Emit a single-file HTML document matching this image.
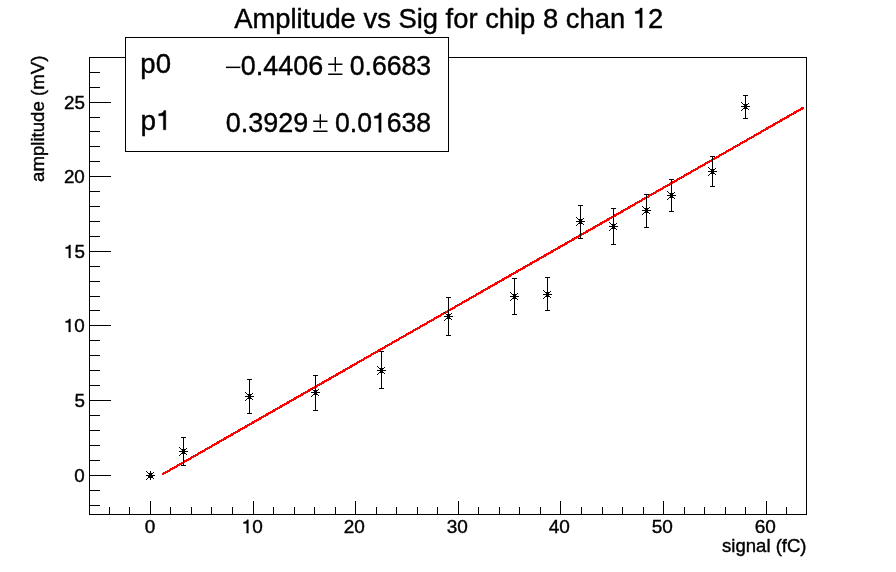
<!DOCTYPE html>
<html><head><meta charset="utf-8"><style>
html,body{margin:0;padding:0;background:#fff;overflow:hidden;}
svg{display:block;will-change:transform;}
text{font-family:"Liberation Sans",sans-serif;fill:#000;stroke:#000;stroke-width:0.4px;}
.g1{fill:#000;stroke:#000;}
</style></head><body>
<svg width="896" height="572" viewBox="0 0 896 572">
<rect x="0" y="0" width="896" height="572" fill="#fff"/>
<g shape-rendering="crispEdges" fill="#000">
<rect x="89" y="57" width="718" height="1"/>
<rect x="89" y="514" width="718" height="1"/>
<rect x="89" y="57" width="1" height="458"/>
<rect x="806" y="57" width="1" height="458"/>
<rect x="109" y="507" width="1" height="7"/>
<rect x="129" y="507" width="1" height="7"/>
<rect x="150" y="501" width="1" height="13"/>
<rect x="170" y="507" width="1" height="7"/>
<rect x="191" y="507" width="1" height="7"/>
<rect x="211" y="507" width="1" height="7"/>
<rect x="232" y="507" width="1" height="7"/>
<rect x="253" y="501" width="1" height="13"/>
<rect x="273" y="507" width="1" height="7"/>
<rect x="294" y="507" width="1" height="7"/>
<rect x="314" y="507" width="1" height="7"/>
<rect x="335" y="507" width="1" height="7"/>
<rect x="355" y="501" width="1" height="13"/>
<rect x="376" y="507" width="1" height="7"/>
<rect x="396" y="507" width="1" height="7"/>
<rect x="417" y="507" width="1" height="7"/>
<rect x="437" y="507" width="1" height="7"/>
<rect x="458" y="501" width="1" height="13"/>
<rect x="478" y="507" width="1" height="7"/>
<rect x="499" y="507" width="1" height="7"/>
<rect x="519" y="507" width="1" height="7"/>
<rect x="540" y="507" width="1" height="7"/>
<rect x="560" y="501" width="1" height="13"/>
<rect x="581" y="507" width="1" height="7"/>
<rect x="602" y="507" width="1" height="7"/>
<rect x="622" y="507" width="1" height="7"/>
<rect x="643" y="507" width="1" height="7"/>
<rect x="663" y="501" width="1" height="13"/>
<rect x="684" y="507" width="1" height="7"/>
<rect x="704" y="507" width="1" height="7"/>
<rect x="725" y="507" width="1" height="7"/>
<rect x="745" y="507" width="1" height="7"/>
<rect x="766" y="501" width="1" height="13"/>
<rect x="786" y="507" width="1" height="7"/>
<rect x="89" y="505" width="11" height="1"/>
<rect x="89" y="490" width="11" height="1"/>
<rect x="89" y="475" width="22" height="1"/>
<rect x="89" y="460" width="11" height="1"/>
<rect x="89" y="445" width="11" height="1"/>
<rect x="89" y="430" width="11" height="1"/>
<rect x="89" y="415" width="11" height="1"/>
<rect x="89" y="400" width="22" height="1"/>
<rect x="89" y="385" width="11" height="1"/>
<rect x="89" y="370" width="11" height="1"/>
<rect x="89" y="355" width="11" height="1"/>
<rect x="89" y="340" width="11" height="1"/>
<rect x="89" y="325" width="22" height="1"/>
<rect x="89" y="310" width="11" height="1"/>
<rect x="89" y="296" width="11" height="1"/>
<rect x="89" y="281" width="11" height="1"/>
<rect x="89" y="266" width="11" height="1"/>
<rect x="89" y="251" width="22" height="1"/>
<rect x="89" y="236" width="11" height="1"/>
<rect x="89" y="221" width="11" height="1"/>
<rect x="89" y="206" width="11" height="1"/>
<rect x="89" y="191" width="11" height="1"/>
<rect x="89" y="176" width="22" height="1"/>
<rect x="89" y="161" width="11" height="1"/>
<rect x="89" y="146" width="11" height="1"/>
<rect x="89" y="131" width="11" height="1"/>
<rect x="89" y="117" width="11" height="1"/>
<rect x="89" y="102" width="22" height="1"/>
<rect x="89" y="87" width="11" height="1"/>
<rect x="89" y="72" width="11" height="1"/>
</g>
<line x1="163" y1="474.0" x2="803.1" y2="107.9" stroke="#f00" stroke-width="2.3" stroke-linecap="round" shape-rendering="crispEdges"/>
<g shape-rendering="crispEdges" fill="#000">
<rect x="148" y="476" width="5" height="1"/>
<rect x="146" y="475" width="9" height="1"/>
<rect x="150" y="471" width="1" height="9"/>
<rect x="148" y="473" width="5" height="1"/>
<rect x="148" y="477" width="5" height="1"/>
<rect x="149" y="474" width="3" height="3"/>
<rect x="146" y="471" width="1" height="1"/>
<rect x="147" y="472" width="1" height="1"/>
<rect x="153" y="472" width="1" height="1"/>
<rect x="147" y="478" width="1" height="1"/>
<rect x="146" y="479" width="1" height="1"/>
<rect x="153" y="478" width="1" height="1"/>
<rect x="183" y="437" width="1" height="29"/>
<rect x="181" y="437" width="5" height="1"/>
<rect x="181" y="465" width="5" height="1"/>
<rect x="179" y="451" width="9" height="1"/>
<rect x="183" y="447" width="1" height="9"/>
<rect x="181" y="449" width="5" height="1"/>
<rect x="181" y="453" width="5" height="1"/>
<rect x="182" y="450" width="3" height="3"/>
<rect x="179" y="447" width="1" height="1"/>
<rect x="180" y="448" width="1" height="1"/>
<rect x="186" y="448" width="1" height="1"/>
<rect x="180" y="454" width="1" height="1"/>
<rect x="179" y="455" width="1" height="1"/>
<rect x="186" y="454" width="1" height="1"/>
<rect x="249" y="379" width="1" height="35"/>
<rect x="247" y="379" width="5" height="1"/>
<rect x="247" y="413" width="5" height="1"/>
<rect x="245" y="396" width="9" height="1"/>
<rect x="249" y="392" width="1" height="9"/>
<rect x="247" y="394" width="5" height="1"/>
<rect x="247" y="398" width="5" height="1"/>
<rect x="248" y="395" width="3" height="3"/>
<rect x="245" y="392" width="1" height="1"/>
<rect x="246" y="393" width="1" height="1"/>
<rect x="252" y="393" width="1" height="1"/>
<rect x="246" y="399" width="1" height="1"/>
<rect x="245" y="400" width="1" height="1"/>
<rect x="252" y="399" width="1" height="1"/>
<rect x="315" y="375" width="1" height="36"/>
<rect x="313" y="375" width="5" height="1"/>
<rect x="313" y="410" width="5" height="1"/>
<rect x="311" y="392" width="9" height="1"/>
<rect x="315" y="388" width="1" height="9"/>
<rect x="313" y="390" width="5" height="1"/>
<rect x="313" y="394" width="5" height="1"/>
<rect x="314" y="391" width="3" height="3"/>
<rect x="311" y="388" width="1" height="1"/>
<rect x="312" y="389" width="1" height="1"/>
<rect x="318" y="389" width="1" height="1"/>
<rect x="312" y="395" width="1" height="1"/>
<rect x="311" y="396" width="1" height="1"/>
<rect x="318" y="395" width="1" height="1"/>
<rect x="381" y="351" width="1" height="38"/>
<rect x="379" y="351" width="5" height="1"/>
<rect x="379" y="388" width="5" height="1"/>
<rect x="377" y="370" width="9" height="1"/>
<rect x="381" y="366" width="1" height="9"/>
<rect x="379" y="368" width="5" height="1"/>
<rect x="379" y="372" width="5" height="1"/>
<rect x="380" y="369" width="3" height="3"/>
<rect x="377" y="366" width="1" height="1"/>
<rect x="378" y="367" width="1" height="1"/>
<rect x="384" y="367" width="1" height="1"/>
<rect x="378" y="373" width="1" height="1"/>
<rect x="377" y="374" width="1" height="1"/>
<rect x="384" y="373" width="1" height="1"/>
<rect x="448" y="297" width="1" height="39"/>
<rect x="446" y="297" width="5" height="1"/>
<rect x="446" y="335" width="5" height="1"/>
<rect x="444" y="316" width="9" height="1"/>
<rect x="448" y="312" width="1" height="9"/>
<rect x="446" y="314" width="5" height="1"/>
<rect x="446" y="318" width="5" height="1"/>
<rect x="447" y="315" width="3" height="3"/>
<rect x="444" y="312" width="1" height="1"/>
<rect x="445" y="313" width="1" height="1"/>
<rect x="451" y="313" width="1" height="1"/>
<rect x="445" y="319" width="1" height="1"/>
<rect x="444" y="320" width="1" height="1"/>
<rect x="451" y="319" width="1" height="1"/>
<rect x="514" y="278" width="1" height="37"/>
<rect x="512" y="278" width="5" height="1"/>
<rect x="512" y="314" width="5" height="1"/>
<rect x="510" y="296" width="9" height="1"/>
<rect x="514" y="292" width="1" height="9"/>
<rect x="512" y="294" width="5" height="1"/>
<rect x="512" y="298" width="5" height="1"/>
<rect x="513" y="295" width="3" height="3"/>
<rect x="510" y="292" width="1" height="1"/>
<rect x="511" y="293" width="1" height="1"/>
<rect x="517" y="293" width="1" height="1"/>
<rect x="511" y="299" width="1" height="1"/>
<rect x="510" y="300" width="1" height="1"/>
<rect x="517" y="299" width="1" height="1"/>
<rect x="547" y="277" width="1" height="34"/>
<rect x="545" y="277" width="5" height="1"/>
<rect x="545" y="310" width="5" height="1"/>
<rect x="543" y="294" width="9" height="1"/>
<rect x="547" y="290" width="1" height="9"/>
<rect x="545" y="292" width="5" height="1"/>
<rect x="545" y="296" width="5" height="1"/>
<rect x="546" y="293" width="3" height="3"/>
<rect x="543" y="290" width="1" height="1"/>
<rect x="544" y="291" width="1" height="1"/>
<rect x="550" y="291" width="1" height="1"/>
<rect x="544" y="297" width="1" height="1"/>
<rect x="543" y="298" width="1" height="1"/>
<rect x="550" y="297" width="1" height="1"/>
<rect x="580" y="205" width="1" height="34"/>
<rect x="578" y="205" width="5" height="1"/>
<rect x="578" y="238" width="5" height="1"/>
<rect x="576" y="221" width="9" height="1"/>
<rect x="580" y="217" width="1" height="9"/>
<rect x="578" y="219" width="5" height="1"/>
<rect x="578" y="223" width="5" height="1"/>
<rect x="579" y="220" width="3" height="3"/>
<rect x="576" y="217" width="1" height="1"/>
<rect x="577" y="218" width="1" height="1"/>
<rect x="583" y="218" width="1" height="1"/>
<rect x="577" y="224" width="1" height="1"/>
<rect x="576" y="225" width="1" height="1"/>
<rect x="583" y="224" width="1" height="1"/>
<rect x="613" y="208" width="1" height="37"/>
<rect x="611" y="208" width="5" height="1"/>
<rect x="611" y="244" width="5" height="1"/>
<rect x="609" y="226" width="9" height="1"/>
<rect x="613" y="222" width="1" height="9"/>
<rect x="611" y="224" width="5" height="1"/>
<rect x="611" y="228" width="5" height="1"/>
<rect x="612" y="225" width="3" height="3"/>
<rect x="609" y="222" width="1" height="1"/>
<rect x="610" y="223" width="1" height="1"/>
<rect x="616" y="223" width="1" height="1"/>
<rect x="610" y="229" width="1" height="1"/>
<rect x="609" y="230" width="1" height="1"/>
<rect x="616" y="229" width="1" height="1"/>
<rect x="646" y="194" width="1" height="34"/>
<rect x="644" y="194" width="5" height="1"/>
<rect x="644" y="227" width="5" height="1"/>
<rect x="642" y="210" width="9" height="1"/>
<rect x="646" y="206" width="1" height="9"/>
<rect x="644" y="208" width="5" height="1"/>
<rect x="644" y="212" width="5" height="1"/>
<rect x="645" y="209" width="3" height="3"/>
<rect x="642" y="206" width="1" height="1"/>
<rect x="643" y="207" width="1" height="1"/>
<rect x="649" y="207" width="1" height="1"/>
<rect x="643" y="213" width="1" height="1"/>
<rect x="642" y="214" width="1" height="1"/>
<rect x="649" y="213" width="1" height="1"/>
<rect x="671" y="179" width="1" height="33"/>
<rect x="669" y="179" width="5" height="1"/>
<rect x="669" y="211" width="5" height="1"/>
<rect x="667" y="195" width="9" height="1"/>
<rect x="671" y="191" width="1" height="9"/>
<rect x="669" y="193" width="5" height="1"/>
<rect x="669" y="197" width="5" height="1"/>
<rect x="670" y="194" width="3" height="3"/>
<rect x="667" y="191" width="1" height="1"/>
<rect x="668" y="192" width="1" height="1"/>
<rect x="674" y="192" width="1" height="1"/>
<rect x="668" y="198" width="1" height="1"/>
<rect x="667" y="199" width="1" height="1"/>
<rect x="674" y="198" width="1" height="1"/>
<rect x="712" y="156" width="1" height="31"/>
<rect x="710" y="156" width="5" height="1"/>
<rect x="710" y="186" width="5" height="1"/>
<rect x="708" y="171" width="9" height="1"/>
<rect x="712" y="167" width="1" height="9"/>
<rect x="710" y="169" width="5" height="1"/>
<rect x="710" y="173" width="5" height="1"/>
<rect x="711" y="170" width="3" height="3"/>
<rect x="708" y="167" width="1" height="1"/>
<rect x="709" y="168" width="1" height="1"/>
<rect x="715" y="168" width="1" height="1"/>
<rect x="709" y="174" width="1" height="1"/>
<rect x="708" y="175" width="1" height="1"/>
<rect x="715" y="174" width="1" height="1"/>
<rect x="745" y="95" width="1" height="24"/>
<rect x="743" y="95" width="5" height="1"/>
<rect x="743" y="118" width="5" height="1"/>
<rect x="741" y="106" width="9" height="1"/>
<rect x="745" y="102" width="1" height="9"/>
<rect x="743" y="104" width="5" height="1"/>
<rect x="743" y="108" width="5" height="1"/>
<rect x="744" y="105" width="3" height="3"/>
<rect x="741" y="102" width="1" height="1"/>
<rect x="742" y="103" width="1" height="1"/>
<rect x="748" y="103" width="1" height="1"/>
<rect x="742" y="109" width="1" height="1"/>
<rect x="741" y="110" width="1" height="1"/>
<rect x="748" y="109" width="1" height="1"/>
</g>
<text x="144.78" y="533.10" font-size="19.0" textLength="10.57" lengthAdjust="spacingAndGlyphs">0</text>
<text x="241.81" y="533.10" font-size="19.0" textLength="21.13" lengthAdjust="spacingAndGlyphs"> 0</text><path class="g1" transform="translate(241.81 533.10) scale(0.01900 -0.01900)" d="M258 0H345V700H278C262 640 218 588 90 580V508H258Z" stroke-width="21.05"/>
<text x="343.81" y="533.10" font-size="19.0" textLength="21.13" lengthAdjust="spacingAndGlyphs">20</text>
<text x="446.81" y="533.10" font-size="19.0" textLength="21.13" lengthAdjust="spacingAndGlyphs">30</text>
<text x="548.81" y="533.10" font-size="19.0" textLength="21.13" lengthAdjust="spacingAndGlyphs">40</text>
<text x="651.81" y="533.10" font-size="19.0" textLength="21.13" lengthAdjust="spacingAndGlyphs">50</text>
<text x="754.81" y="533.10" font-size="19.0" textLength="21.13" lengthAdjust="spacingAndGlyphs">60</text>
<text x="74.38" y="481.90" font-size="18.5" textLength="10.46" lengthAdjust="spacingAndGlyphs">0</text>
<text x="74.43" y="406.90" font-size="18.5" textLength="10.46" lengthAdjust="spacingAndGlyphs">5</text>
<text x="63.92" y="331.90" font-size="18.5" textLength="20.91" lengthAdjust="spacingAndGlyphs"> 0</text><path class="g1" transform="translate(63.92 331.90) scale(0.01880 -0.01850)" d="M258 0H345V700H278C262 640 218 588 90 580V508H258Z" stroke-width="21.62"/>
<text x="63.98" y="257.90" font-size="18.5" textLength="20.91" lengthAdjust="spacingAndGlyphs"> 5</text><path class="g1" transform="translate(63.98 257.90) scale(0.01880 -0.01850)" d="M258 0H345V700H278C262 640 218 588 90 580V508H258Z" stroke-width="21.62"/>
<text x="63.92" y="182.90" font-size="18.5" textLength="20.91" lengthAdjust="spacingAndGlyphs">20</text>
<text x="63.98" y="108.90" font-size="18.5" textLength="20.91" lengthAdjust="spacingAndGlyphs">25</text>
<text x="722.08" y="551.80" font-size="18.6" textLength="84.47" lengthAdjust="spacingAndGlyphs">signal (fC)</text>
<text x="234.15" y="27.65" font-size="27.9" textLength="429.03" lengthAdjust="spacingAndGlyphs">Amplitude vs Sig for chip 8 chan  2</text><path class="g1" transform="translate(632.73 27.65) scale(0.02737 -0.02790)" d="M258 0H345V700H278C262 640 218 588 90 580V508H258Z" stroke-width="14.34"/>
<text x="-181.99" y="44.00" font-size="18.6" textLength="126.35" lengthAdjust="spacingAndGlyphs" transform="rotate(-90)">amplitude (mV)</text>
<rect x="125.5" y="37.5" width="323" height="114" fill="#fff" stroke="#000" stroke-width="1"/>
<text x="140.32" y="73.00" font-size="27.5" textLength="30.65" lengthAdjust="spacingAndGlyphs">p0</text>
<rect x="226" y="66.6" width="14.3" height="1.5" fill="#000"/>
<text x="240.85" y="75.10" font-size="27.5" textLength="82.33" lengthAdjust="spacingAndGlyphs">0.4406</text>
<path d="M335.3 57.0V71.5M328.2 64.2H342.4M328.2 74.3H342.4" stroke="#000" stroke-width="1.4" fill="none"/>
<text x="349.66" y="75.10" font-size="27.5" textLength="81.51" lengthAdjust="spacingAndGlyphs">0.6683</text>
<text x="140.60" y="129.80" font-size="27.5" textLength="31.11" lengthAdjust="spacingAndGlyphs">p </text><path class="g1" transform="translate(156.15 129.80) scale(0.02797 -0.02750)" d="M258 0H345V700H278C262 640 218 588 90 580V508H258Z" stroke-width="14.55"/>
<text x="225.80" y="132.20" font-size="27.5" textLength="82.48" lengthAdjust="spacingAndGlyphs">0.3929</text>
<path d="M320.3 114.2V128.3M313.2 121.2H327.5M313.2 131.3H327.5" stroke="#000" stroke-width="1.4" fill="none"/>
<text x="334.96" y="132.20" font-size="27.5" textLength="96.20" lengthAdjust="spacingAndGlyphs">0.0 638</text><path class="g1" transform="translate(371.95 132.20) scale(0.02661 -0.02750)" d="M258 0H345V700H278C262 640 218 588 90 580V508H258Z" stroke-width="14.55"/>
</svg>
</body></html>
